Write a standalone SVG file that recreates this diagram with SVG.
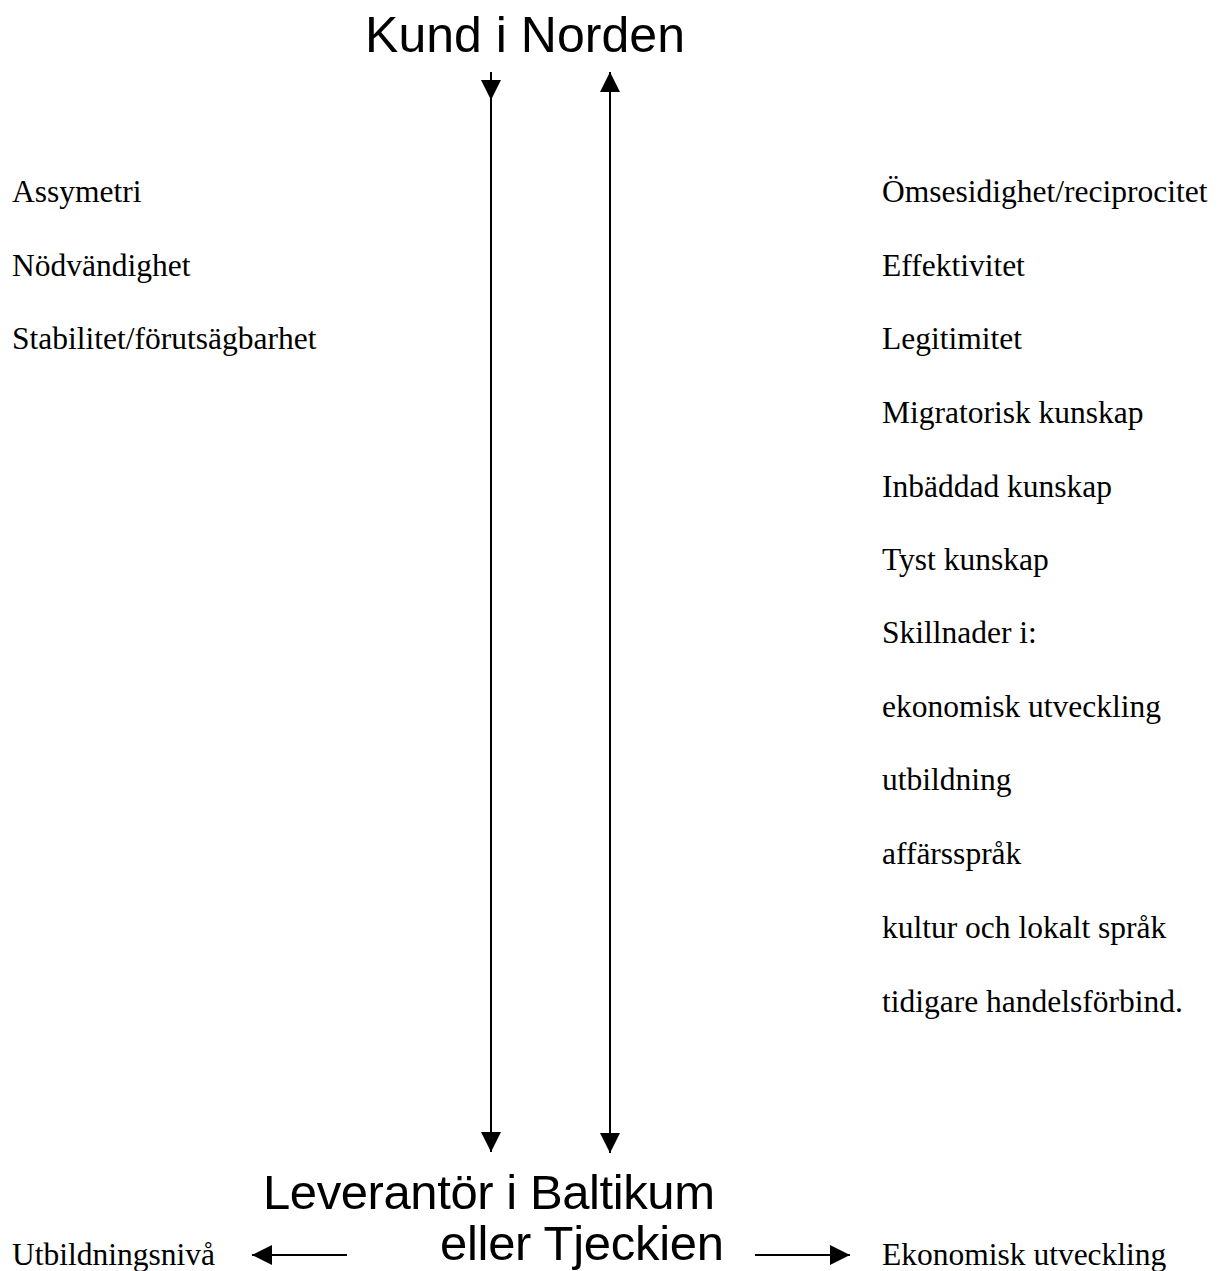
<svg xmlns="http://www.w3.org/2000/svg" width="1224" height="1271" viewBox="0 0 1224 1271">
<style>
.bg{fill:#ffffff}
.sans{font-family:"Liberation Sans",Arial,sans-serif;fill:#000}
.serif{font-family:"Liberation Serif","Times New Roman",serif;font-size:31.5px;fill:#000}
.ln{stroke:#000;stroke-width:2;fill:none}
</style>
<defs>
<marker id="ah" viewBox="0 0 20 20" refX="20" refY="10" markerWidth="20" markerHeight="20" markerUnits="userSpaceOnUse" orient="auto-start-reverse">
<path d="M0,0 L20,10 L0,20 z" fill="#000"/>
</marker>
</defs>
<rect class="bg" x="0" y="0" width="1224" height="1271"/>
<g id="node-kund">
<text class="sans" x="365" y="52" font-size="50" textLength="320">Kund i Norden</text>
</g>
<g id="node-leverantor">
<text class="sans" x="263" y="1209" font-size="49" textLength="452">Leverantör i Baltikum</text>
<text class="sans" x="440" y="1260" font-size="49" textLength="284">eller Tjeckien</text>
</g>
<g id="node-left-list">
<text class="serif" x="12" y="202">Assymetri</text>
<text class="serif" x="12" y="276">Nödvändighet</text>
<text class="serif" x="12" y="349">Stabilitet/förutsägbarhet</text>
</g>
<g id="node-right-list">
<text class="serif" x="882" y="202">Ömsesidighet/reciprocitet</text>
<text class="serif" x="882" y="276">Effektivitet</text>
<text class="serif" x="882" y="349">Legitimitet</text>
<text class="serif" x="882" y="423">Migratorisk kunskap</text>
<text class="serif" x="882" y="497">Inbäddad kunskap</text>
<text class="serif" x="882" y="570">Tyst kunskap</text>
<text class="serif" x="882" y="643">Skillnader i:</text>
<text class="serif" x="882" y="717">ekonomisk utveckling</text>
<text class="serif" x="882" y="790">utbildning</text>
<text class="serif" x="882" y="864">affärsspråk</text>
<text class="serif" x="882" y="938">kultur och lokalt språk</text>
<text class="serif" x="882" y="1012">tidigare handelsförbind.</text>
</g>
<g id="node-utbildningsniva">
<text class="serif" x="12" y="1265">Utbildningsnivå</text>
</g>
<g id="node-ekonomisk">
<text class="serif" x="882" y="1265">Ekonomisk utveckling</text>
</g>
<g id="connectors">
<path class="ln" d="M491,72 L491,100" marker-end="url(#ah)"/>
<path class="ln" d="M491,100 L491,1152" marker-end="url(#ah)"/>
<path class="ln" d="M610,72 L610,1153" marker-start="url(#ah)" marker-end="url(#ah)"/>
<path class="ln" d="M347,1255 L252,1255" marker-end="url(#ah)"/>
<path class="ln" d="M755,1255 L850,1255" marker-end="url(#ah)"/>
</g>
</svg>
